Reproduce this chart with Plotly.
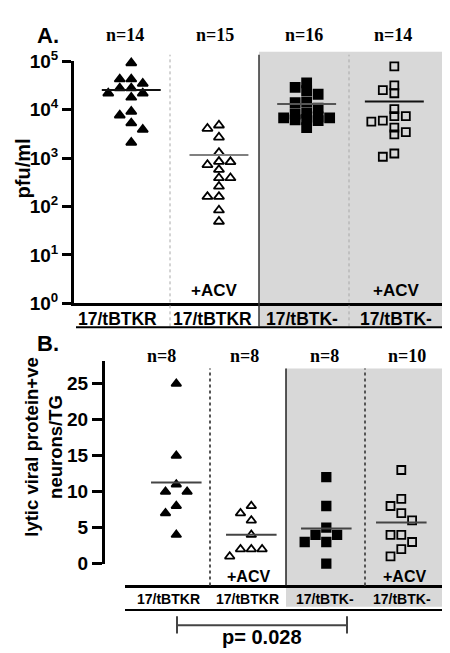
import plotly.graph_objects as go
import numpy as np

W, H = 450, 653

# ---------------- data ----------------
groups = ["17/tBTKR", "17/tBTKR", "17/tBTK-", "17/tBTK-"]
treat = ["", "+ACV", "", "+ACV"]

# Panel A: pfu/ml
a_tbtkr = [9.3e4, 4.3e4, 4.3e4, 3.5e4, 2.8e4, 2.8e4, 2.2e4, 2.2e4, 1.8e4,
           9.2e3, 7.7e3, 5.3e3, 3.9e3, 2.1e3]
a_tbtkr_acv = [4.8e3, 4.1e3, 2.7e3, 1.3e3, 850, 840, 730, 580, 390, 390, 260,
               160, 160, 84, 49]
a_tbtkneg = [3.6e4, 2.9e4, 2.5e4, 2.1e4, 1.46e4, 1.4e4, 1.08e4, 8.6e3, 8.2e3,
             7.1e3, 6.8e3, 6.8e3, 6.3e3, 6.2e3, 6.0e3, 4.3e3]
a_tbtkneg_acv = [7.9e4, 3.2e4, 2.55e4, 2.2e4, 1.03e4, 7.4e3, 7.4e3, 6.0e3,
                 5.7e3, 4.3e3, 3.45e3, 3.1e3, 1.25e3, 1.07e3]

# Panel B: lytic viral protein+ve neurons/TG
b_tbtkr = [25, 15, 11, 10, 10, 8, 7, 4]
b_tbtkr_acv = [8, 7, 6, 4, 2, 2, 2, 1]
b_tbtkneg = [12, 8, 5, 4, 4, 3, 3, 0]
b_tbtkneg_acv = [13, 9, 8, 7, 6, 4, 4, 3, 2, 1]

a_n = ["n=14", "n=15", "n=16", "n=14"]
b_n = ["n=8", "n=8", "n=8", "n=10"]
a_ticks = [1, 10, 100, 1000, 10000, 100000]
b_ticks = [0, 5, 10, 15, 20, 25]
p_text = "p= 0.028"

# ---------------- helpers ----------------
def px(x):
    return x / W

def py(y):
    return 1 - y / H


def swarm(vals, to_px, step, D, kmax):
    """Greedy column-scatter spreading (in pixel space), limited width."""
    n = len(vals)
    order = sorted(range(n), key=lambda i: -vals[i])
    placed = []
    out = [0.0] * n
    for i in order:
        p = to_px(vals[i])
        cands = [0]
        for k in range(1, kmax + 1):
            cp = sum(1 for s, _ in placed if s == k)
            cm = sum(1 for s, _ in placed if s == -k)
            cands += [k, -k] if cp < cm else [-k, k]
        best, best_gap = 0, -1
        for k in cands:
            gaps = [abs(q - p) for s, q in placed if s == k]
            g = min(gaps) if gaps else 1e9
            if g >= D:
                best = k
                break
            if g > best_gap:
                best, best_gap = k, g
        placed.append((best, p))
        out[i] = best * step
    return out


fig = go.Figure()

# ---------------- Panel A ----------------
A_X0, A_X1 = 66, 445
A_Y0, A_Y1 = 293, 42
A_range = [0.347, 4.669]
A_decade = (A_Y0 - A_Y1) / 5.0
A_unit = (A_X1 - A_X0) / (A_range[1] - A_range[0])
a_step = 11.5 / A_unit

a_sets = [a_tbtkr, a_tbtkr_acv, a_tbtkneg, a_tbtkneg_acv]
a_sym = ["triangle-up", "triangle-up-open", "square", "square-open"]
a_size = [9, 9, 9, 8]
a_mean_col = ["#111111", "#808080", "#555555", "#111111"]
for i, vals in enumerate(a_sets):
    off = swarm(vals, lambda v: np.log10(v) * A_decade, a_step, 7, 2)
    xs = [i + 1 + o for o in off]
    fig.add_trace(go.Scatter(
        x=xs, y=vals, mode="markers", xaxis="x", yaxis="y",
        marker=dict(symbol=a_sym[i], size=a_size[i], color="black",
                    line=dict(color="black", width=1.8)),
        cliponaxis=False, showlegend=False, hoverinfo="skip"))
    m = float(np.mean(vals))
    fig.add_trace(go.Scatter(
        x=[i + 1 - 0.336, i + 1 + 0.336], y=[m, m], mode="lines",
        xaxis="x", yaxis="y", line=dict(color=a_mean_col[i], width=2),
        showlegend=False, hoverinfo="skip"))

# ---------------- Panel B ----------------
B_X0, B_X1 = 117, 447
B_Y0, B_Y1 = 563.3, 353.3
B_range = [0.316, 4.716]
B_yr = [0, 28.1]
B_unitY = (B_Y0 - B_Y1) / (B_yr[1] - B_yr[0])
B_unit = (B_X1 - B_X0) / (B_range[1] - B_range[0])
b_step = 10.8 / B_unit

b_sets = [b_tbtkr, b_tbtkr_acv, b_tbtkneg, b_tbtkneg_acv]
b_sym = ["triangle-up", "triangle-up-open", "square", "square-open"]
b_size = [8.5, 8.5, 8.5, 8]
for i, vals in enumerate(b_sets):
    off = swarm(vals, lambda v: v * B_unitY, b_step, 8, 2)
    xs = [i + 1 + o for o in off]
    fig.add_trace(go.Scatter(
        x=xs, y=vals, mode="markers", xaxis="x2", yaxis="y2",
        marker=dict(symbol=b_sym[i], size=b_size[i], color="black",
                    line=dict(color="black", width=1.8)),
        cliponaxis=False, showlegend=False, hoverinfo="skip"))
    m = float(np.mean(vals))
    fig.add_trace(go.Scatter(
        x=[i + 1 - 0.337, i + 1 + 0.337], y=[m, m], mode="lines",
        xaxis="x2", yaxis="y2", line=dict(color="#444444", width=2),
        showlegend=False, hoverinfo="skip"))

FONT = "Liberation Sans, Arial, sans-serif"
SERIF = "Liberation Serif, Times New Roman, serif"

fig.update_layout(
    width=W, height=H,
    margin=dict(l=0, r=0, t=0, b=0),
    paper_bgcolor="white", plot_bgcolor="rgba(0,0,0,0)",
    font=dict(family=FONT, color="black"),
    xaxis=dict(domain=[px(A_X0), px(A_X1)], range=A_range, anchor="y",
               showline=True, linewidth=3, linecolor="black",
               tickvals=[], showticklabels=False, ticks="", showgrid=False,
               zeroline=False),
    yaxis=dict(domain=[py(A_Y0), py(A_Y1)], type="log", range=[0, 5],
               anchor="x", showline=True, linewidth=3, linecolor="black",
               ticks="outside", ticklen=9, tickwidth=2.5, tickcolor="black",
               tickvals=a_ticks,
               ticktext=["10<sup>%d</sup>" % int(round(np.log10(t))) for t in a_ticks],
               tickfont=dict(size=19, family=FONT, color="black", weight="bold"),
               showgrid=False, zeroline=False),
    xaxis2=dict(domain=[px(B_X0), px(B_X1)], range=B_range, anchor="free",
                position=py(586.7),
                showline=True, linewidth=2.5, linecolor="black",
                tickvals=[], showticklabels=False, ticks="", showgrid=False,
                zeroline=False),
    yaxis2=dict(domain=[py(B_Y0), py(B_Y1)], range=B_yr, anchor="free",
                position=px(95), showline=True, linewidth=3, linecolor="black",
                ticks="outside", ticklen=10, tickwidth=2.5, tickcolor="black",
                tickvals=b_ticks, ticktext=[str(t) for t in b_ticks],
                tickfont=dict(size=19, family=FONT, color="black", weight="bold"),
                showgrid=False, zeroline=False),
)

shapes = []
# gray backgrounds
shapes.append(dict(type="rect", xref="paper", yref="paper", x0=px(251), x1=px(445),
                   y0=py(318), y1=py(32), fillcolor="#d8d8d8", line=dict(width=0), layer="below"))
shapes.append(dict(type="rect", xref="paper", yref="paper", x0=px(278), x1=px(446),
                   y0=py(608), y1=py(360.7), fillcolor="#d8d8d8", line=dict(width=0), layer="below"))
# panel A dividers (run through the label row)
for xx, col, w, dash in [(162, "#a8a8a8", 1, "dot"), (251, "#333333", 1.5, "solid"),
                         (341, "#a8a8a8", 1, "dot")]:
    shapes.append(dict(type="line", xref="paper", yref="paper", x0=px(xx), x1=px(xx),
                       y0=py(317), y1=py(35), line=dict(color=col, width=w, dash=dash)))
# panel B dividers
for xx, col, w, dash in [(202, "#555555", 2, "dot"), (278, "#222222", 1.5, "solid"),
                         (357, "#555555", 2, "dot")]:
    shapes.append(dict(type="line", xref="paper", yref="paper", x0=px(xx), x1=px(xx),
                       y0=py(586), y1=py(360.7), line=dict(color=col, width=w, dash=dash)))
# underlines
shapes.append(dict(type="line", xref="paper", yref="paper", x0=px(68), x1=px(445),
                   y0=py(318), y1=py(318), line=dict(color="black", width=2)))
shapes.append(dict(type="line", xref="paper", yref="paper", x0=px(117), x1=px(447),
                   y0=py(611.5), y1=py(611.5), line=dict(color="black", width=2)))
# p-value bracket
shapes.append(dict(type="line", xref="paper", yref="paper", x0=px(169), x1=px(339),
                   y0=py(627.3), y1=py(627.3), line=dict(color="#444444", width=2)))
for xx in (169, 339):
    shapes.append(dict(type="line", xref="paper", yref="paper", x0=px(xx), x1=px(xx),
                       y0=py(618), y1=py(636), line=dict(color="#444444", width=2)))
fig.update_layout(shapes=shapes)

ann = []
def add_text(txt, x, y, size, family=FONT, angle=0):
    ann.append(dict(text=txt, x=px(x), y=py(y), xref="paper", yref="paper",
                    showarrow=False, xanchor="center", yanchor="middle",
                    textangle=angle,
                    font=dict(size=size, family=family, color="black", weight="bold")))

add_text("A.", 40, 15, 22)
add_text("B.", 40, 335, 22)
for t, x in zip(a_n, [117, 207, 296, 385]):
    add_text(t, x, 15, 18, SERIF)
for t, x in zip(b_n, [153, 237, 316, 399]):
    add_text(t, x, 348, 18, SERIF)
for t, x in zip(groups, [109, 204, 294, 388]):
    add_text(t, x, 309, 17.5)
for t, x in zip(groups, [160, 239, 317, 394]):
    add_text(t, x, 600, 14)
for t, x in zip(treat, [123, 206, 299, 388]):
    if t:
        add_text(t, x, 280, 17)
for t, x in zip(treat, [168, 240, 318, 396]):
    if t:
        add_text(t, x, 577, 16)
add_text("pfu/ml", 15, 153, 20, angle=-90)
add_text("lytic viral protein+ve<br>neurons/TG", 36, 443, 18.5, angle=-90)
add_text(p_text, 254, 640, 20)
fig.update_layout(annotations=ann)

fig.write_html("out.html")
